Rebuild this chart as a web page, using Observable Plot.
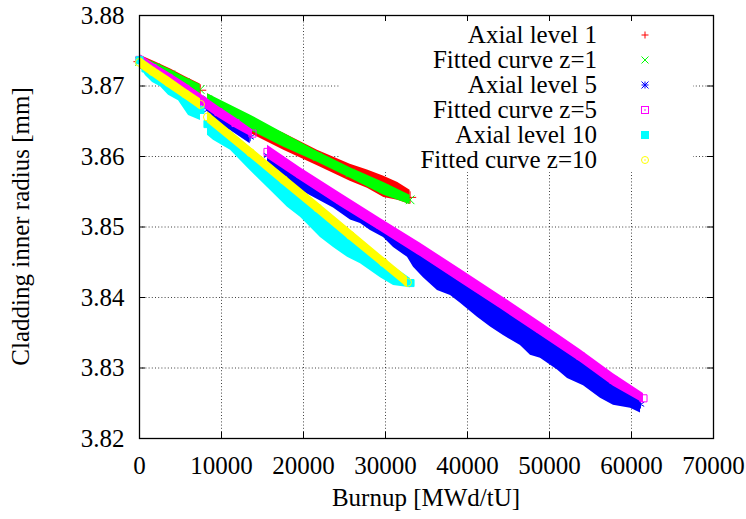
<!DOCTYPE html>
<html>
<head>
<meta charset="utf-8">
<script src="https://cdn.jsdelivr.net/npm/d3@7"></script>
<script src="https://cdn.jsdelivr.net/npm/@observablehq/plot@0.6"></script>
<style>
  body { margin: 0; background: #fff; }
  #chart { width: 746px; height: 519px; }
</style>
</head>
<body>
<div id="chart"></div>
<script>
// Each row: [cycle, burnup (MWd/tU), upper radius (mm), lower radius (mm)]
// The spread between upper and lower is the scatter of the pins at that burnup.
const axialLevel1 = [
  [1, 0, 3.8744, 3.8725], [1, 1950, 3.8734, 3.8716], [1, 3800, 3.8724, 3.8706],
  [1, 5600, 3.8713, 3.8695], [1, 7400, 3.8703, 3.8685],
  [2, 8300, 3.8689, 3.8670], [2, 13500, 3.8654, 3.8633], [2, 17600, 3.8633, 3.8609],
  [2, 21700, 3.8609, 3.8587], [2, 25700, 3.8589, 3.8565], [2, 27800, 3.8581, 3.8555],
  [2, 29800, 3.8572, 3.8542], [2, 31500, 3.8563, 3.8538], [2, 33000, 3.8552, 3.8532]
];
const fittedZ1 = [
  [1, 0, 3.8742, 3.8728], [1, 1950, 3.8733, 3.8719], [1, 3800, 3.8723, 3.8709],
  [1, 5600, 3.8712, 3.8698], [1, 7400, 3.8702, 3.8688],
  [2, 8300, 3.8689, 3.8672], [2, 13500, 3.8659, 3.8637], [2, 17600, 3.8633, 3.8613],
  [2, 21700, 3.8607, 3.8592], [2, 25700, 3.8584, 3.8569], [2, 29800, 3.8563, 3.8545],
  [2, 33000, 3.8545, 3.8532]
];
const axialLevel5 = [
  [1, 0, 3.8742, 3.8728], [1, 1950, 3.8728, 3.8714], [1, 3800, 3.8714, 3.8699],
  [1, 5600, 3.8699, 3.8687], [1, 7400, 3.8685, 3.8671],
  [2, 8300, 3.8677, 3.8655], [2, 11100, 3.8655, 3.8637], [2, 13500, 3.8637, 3.8618],
  [3, 15610, 3.8610, 3.8593], [3, 17560, 3.8595, 3.8573], [3, 19630, 3.8579, 3.8552],
  [3, 22070, 3.8560, 3.8537], [3, 23660, 3.8548, 3.8527], [3, 25730, 3.8533, 3.8510],
  [3, 26950, 3.8524, 3.8505], [3, 28170, 3.8515, 3.8495], [3, 29760, 3.8504, 3.8485],
  [3, 30980, 3.8495, 3.8471], [3, 32680, 3.8482, 3.8457], [3, 33420, 3.8477, 3.8443],
  [3, 34630, 3.8468, 3.8428], [3, 36340, 3.8455, 3.8410], [3, 37930, 3.8443, 3.8403],
  [3, 39150, 3.8434, 3.8392], [3, 41220, 3.8418, 3.8372], [3, 42810, 3.8406, 3.8358],
  [3, 44390, 3.8393, 3.8346], [3, 46460, 3.8377, 3.8332], [3, 47680, 3.8368, 3.8318],
  [3, 48900, 3.8359, 3.8314], [3, 50980, 3.8343, 3.8297], [3, 52200, 3.8333, 3.8285],
  [3, 54150, 3.8318, 3.8275], [3, 56220, 3.8300, 3.8257], [3, 57800, 3.8287, 3.8247],
  [3, 59880, 3.8271, 3.8243], [3, 61100, 3.8261, 3.8236]
];
const fittedZ5 = [
  [1, 0, 3.8745, 3.8729], [1, 1590, 3.8733, 3.8718], [1, 3540, 3.8719, 3.8704],
  [1, 5610, 3.8704, 3.8688], [1, 7680, 3.8687, 3.8671], [1, 9630, 3.8671, 3.8655],
  [1, 11710, 3.8655, 3.8640], [1, 13780, 3.8638, 3.8627],
  [2, 15610, 3.8616, 3.8597], [2, 19630, 3.8584, 3.8566], [2, 24510, 3.8548, 3.8529],
  [2, 29390, 3.8512, 3.8494], [2, 34270, 3.8477, 3.8458], [2, 39150, 3.8440, 3.8421],
  [2, 44020, 3.8403, 3.8384], [2, 48900, 3.8365, 3.8346], [2, 53780, 3.8326, 3.8308],
  [2, 57800, 3.8292, 3.8274], [2, 61460, 3.8264, 3.8250]
];
const axialLevel10 = [
  [1, 0, 3.8745, 3.8728], [1, 730, 3.8735, 3.8715], [1, 1590, 3.8728, 3.8705],
  [1, 2560, 3.8719, 3.8699], [1, 3540, 3.8712, 3.8687], [1, 4760, 3.8702, 3.8679],
  [1, 5980, 3.8692, 3.8658], [1, 7440, 3.8681, 3.8651],
  [2, 8290, 3.8662, 3.8630], [2, 9020, 3.8655, 3.8623], [2, 11100, 3.8636, 3.8609],
  [2, 13170, 3.8616, 3.8584], [2, 15610, 3.8592, 3.8556], [2, 18050, 3.8569, 3.8528],
  [2, 19630, 3.8553, 3.8514], [2, 22070, 3.8530, 3.8485], [2, 23660, 3.8515, 3.8471],
  [2, 25370, 3.8498, 3.8457], [2, 26950, 3.8483, 3.8448], [2, 29390, 3.8459, 3.8428],
  [2, 30980, 3.8444, 3.8417], [2, 33050, 3.8427, 3.8414]
];
const fittedZ10 = [
  [1, 0, 3.8741, 3.8726], [1, 1590, 3.8728, 3.8713], [1, 3540, 3.8713, 3.8697],
  [1, 5610, 3.8696, 3.8681], [1, 7440, 3.8682, 3.8666],
  [2, 8290, 3.8664, 3.8648], [2, 13540, 3.8613, 3.8598], [2, 17560, 3.8575, 3.8559],
  [2, 21710, 3.8535, 3.8519], [2, 25730, 3.8496, 3.8480], [2, 29760, 3.8457, 3.8442],
  [2, 32680, 3.8429, 3.8414]
];

const seriesNames = [
  "Axial level 1", "Fitted curve z=1", "Axial level 5",
  "Fitted curve z=5", "Axial level 10", "Fitted curve z=10"
];
const xTicks = [0, 10000, 20000, 30000, 40000, 50000, 60000, 70000];
const yTicks = [3.82, 3.83, 3.84, 3.85, 3.86, 3.87, 3.88];
const xTitle = "Burnup [MWd/tU]";
const yTitle = "Cladding inner radius [mm]";

const width = 746, height = 519;
const margin = {left: 139, right: 33, top: 15, bottom: 81};
const frameW = width - margin.left - margin.right;
const frameH = height - margin.top - margin.bottom;
const fontFamily = "Liberation Serif";
const fontSize = 25;

const series = [
  {data: axialLevel1, color: "#ff0000", symbol: "plus", filled: false},
  {data: fittedZ1, color: "#00ff00", symbol: "times", filled: false},
  {data: axialLevel5, color: "#0000ff", symbol: "asterisk", filled: false},
  {data: fittedZ5, color: "#ff00ff", symbol: "square", filled: false},
  {data: axialLevel10, color: "#00ffff", symbol: "square", filled: true},
  {data: fittedZ10, color: "#ffff00", symbol: "circle", filled: false}
];

const toRows = (data) => data.map(([cycle, burnup, upper, lower]) =>
  ({cycle, burnup, upper, lower, mid: (upper + lower) / 2}));

const gridStyle = {stroke: "#000", strokeOpacity: 0.75, strokeDasharray: "1,2.2", strokeWidth: 1};

const seriesMarks = series.flatMap((s) => {
  const rows = toRows(s.data);
  return [
    Plot.areaY(rows, {x: "burnup", y1: "lower", y2: "upper", z: "cycle", fill: s.color}),
    Plot.dot(rows, {
      x: "burnup", y: "mid", symbol: s.symbol, r: 4,
      fill: s.filled ? s.color : "none",
      stroke: s.color, strokeWidth: 1
    })
  ];
});

const plot = Plot.plot({
  width, height,
  marginLeft: margin.left, marginRight: margin.right,
  marginTop: margin.top, marginBottom: margin.bottom,
  style: {fontFamily, fontSize: `${fontSize}px`, color: "#000", background: "#fff"},
  x: {domain: [0, 70000]},
  y: {domain: [3.82, 3.88]},
  marks: [
    Plot.gridX(xTicks, gridStyle),
    Plot.gridY(yTicks, gridStyle),
    ...seriesMarks,
    // inward ticks on all four sides
    Plot.tickX(xTicks, {x: (d) => d, insetTop: frameH - 6, stroke: "#000"}),
    Plot.tickX(xTicks, {x: (d) => d, insetBottom: frameH - 6, stroke: "#000"}),
    Plot.tickY(yTicks, {y: (d) => d, insetRight: frameW - 6, stroke: "#000"}),
    Plot.tickY(yTicks, {y: (d) => d, insetLeft: frameW - 6, stroke: "#000"}),
    Plot.axisX(xTicks, {tickSize: 0, tickPadding: 18, tickFormat: "d", fontSize, label: null}),
    Plot.axisY(yTicks, {tickSize: 0, tickPadding: 15, tickFormat: (d) => d.toFixed(2), fontSize, label: null}),
    Plot.frame({stroke: "#000", strokeWidth: 1.3})
  ]
});

document.getElementById("chart").appendChild(plot);

const svg = d3.select(plot);
svg.selectAll("text").attr("font-family", fontFamily);

// Opaque key box: hides the grid behind the legend, drawn under the data
const keyRight = width - margin.right - 20;
const keyLeft = keyRight - 353;
const keyTop = margin.top;
const keyBottom = margin.top + 157;
svg.insert("rect", 'g[aria-label="area"]')
  .attr("x", keyLeft).attr("y", keyTop + 1)
  .attr("width", keyRight - keyLeft).attr("height", keyBottom - keyTop - 1)
  .attr("fill", "#fff");

const key = svg.append("g");
const textX = keyRight - 96;
const symX = keyRight - 48;
series.forEach((s, i) => {
  const y = margin.top + 20 + 25 * i;
  key.append("text")
    .attr("x", textX).attr("y", y)
    .attr("text-anchor", "end").attr("dy", "0.33em")
    .attr("font-family", fontFamily).attr("font-size", fontSize)
    .attr("fill", "#000")
    .text(seriesNames[i]);
  const g = key.append("g").attr("transform", `translate(${symX},${y})`)
    .attr("stroke", s.color).attr("fill", "none").attr("stroke-width", 1);
  const h = 3.5;
  if (s.symbol === "plus") g.append("path").attr("d", `M${-h},0H${h}M0,${-h}V${h}`);
  if (s.symbol === "times") g.append("path").attr("d", `M${-h},${-h}L${h},${h}M${-h},${h}L${h},${-h}`);
  if (s.symbol === "asterisk") g.append("path").attr("d", `M${-h},0H${h}M0,${-h}V${h}M${-h},${-h}L${h},${h}M${-h},${h}L${h},${-h}`);
  if (s.symbol === "square" && !s.filled) {
    g.append("rect").attr("x", -h).attr("y", -h).attr("width", 2 * h).attr("height", 2 * h);
    g.append("rect").attr("x", -0.7).attr("y", -0.7).attr("width", 1.4).attr("height", 1.4).attr("fill", s.color).attr("stroke", "none");
  }
  if (s.symbol === "square" && s.filled) {
    g.append("rect").attr("x", -h).attr("y", -h).attr("width", 2 * h).attr("height", 2 * h).attr("fill", s.color);
  }
  if (s.symbol === "circle") {
    g.append("circle").attr("r", h);
    g.append("circle").attr("r", 0.8).attr("fill", s.color).attr("stroke", "none");
  }
});

// Axis titles
svg.append("text")
  .attr("x", margin.left + frameW / 2).attr("y", 506)
  .attr("text-anchor", "middle")
  .attr("font-family", fontFamily).attr("font-size", fontSize).attr("fill", "#000")
  .text(xTitle);
svg.append("text")
  .attr("transform", `translate(29,${margin.top + frameH / 2}) rotate(-90)`)
  .attr("text-anchor", "middle")
  .attr("font-family", fontFamily).attr("font-size", fontSize).attr("fill", "#000")
  .text(yTitle);
</script>
</body>
</html>
